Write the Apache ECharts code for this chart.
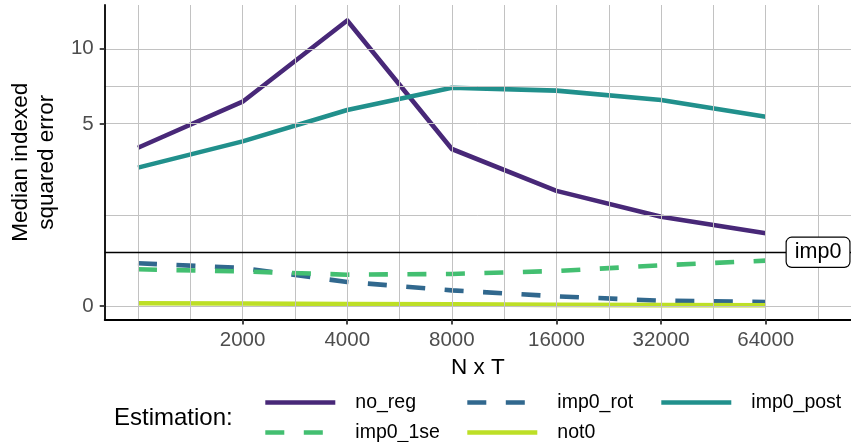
<!DOCTYPE html>
<html>
<head>
<meta charset="utf-8">
<script src="https://cdn.jsdelivr.net/npm/echarts@6/dist/echarts.min.js"></script>
<style>
  html, body { margin: 0; padding: 0; background: #fff; }
  #chart { width: 851px; height: 442px; }
</style>
</head>
<body>
<div id="chart"></div>
<script>
// Problem size (N x T) for each estimation run
const nxt = [1000, 2000, 4000, 8000, 16000, 32000, 64000];

// Median indexed squared error per estimation method
const noReg    = [3.78, 6.30, 12.30, 3.72, 2.00, 1.20, 0.80];
const imp0Rot  = [0.275, 0.218, 0.087, 0.037, 0.0142, 0.0042, 0.0024];
const imp0Post = [2.89, 4.09, 5.80, 7.19, 7.00, 6.40, 5.41];
const imp01se  = [0.203, 0.180, 0.148, 0.155, 0.185, 0.25, 0.31];
const not0     = [0.0011, 0.0009, 0.0006, 0.0004, 0.0002, 0.0001, 0.00007];

// Reference level of the imp0 estimator
const imp0Level = 0.435;
const imp0LabelAt = 90510;   // label position on the N x T axis
const imp0Label = 'imp0';

// Tick labels
const xTicks = [2000, 4000, 8000, 16000, 32000, 64000];
const yTicks = [0, 5, 10];

const legendTitle = 'Estimation:';
const xTitle = 'N x T';
const yTitle = 'Median indexed\nsquared error';

// Scales: log2 on x (relative to 1000), square root on y
const tx = v => Math.log2(v / 1000);
const ty = v => Math.sqrt(v);

const FONT = '"Liberation Sans", Arial, sans-serif';
const GRID_COLOR = '#C2C2C2';

// Major and minor grid positions in transformed units
const xMajor = xTicks.map(tx);
const xMinor = [0, 0.5, 1.5, 2.5, 3.5, 4.5, 5.5, 6.5];
const yMajor = yTicks.map(ty);
const yMinor = [(ty(0) + ty(5)) / 2, (ty(5) + ty(10)) / 2];

const methods = [
  { name: 'no_reg',    values: noReg,    color: '#482878', dash: 'solid' },
  { name: 'imp0_rot',  values: imp0Rot,  color: '#31688E', dash: [19, 19.5] },
  { name: 'imp0_post', values: imp0Post, color: '#21908C', dash: 'solid' },
  { name: 'imp0_1se',  values: imp01se,  color: '#43BF71', dash: [19, 19.5] },
  { name: 'not0',      values: not0,     color: '#BDDF26', dash: 'solid' }
];

const LW = 4.6;

const dataSeries = methods.map(m => ({
  name: m.name,
  type: 'line',
  z: 3,
  symbol: 'none',
  silent: true,
  animation: false,
  color: m.color,
  lineStyle: { color: m.color, width: LW, type: m.dash, cap: 'butt', join: 'round' },
  data: nxt.map((n, i) => [tx(n), ty(m.values[i])])
}));

const gridLineStyle = { color: GRID_COLOR, width: 1, type: 'solid' };

const gridSeries = {
  name: 'grid',
  type: 'line',
  z: 1,
  data: [],
  silent: true,
  animation: false,
  markLine: {
    silent: true,
    animation: false,
    symbol: ['none', 'none'],
    label: { show: false },
    lineStyle: gridLineStyle,
    emphasis: { disabled: true },
    data: [
      ...xMajor.concat(xMinor).map(v => ({ xAxis: v })),
      ...yMajor.concat(yMinor).map(v => ({ yAxis: v }))
    ]
  }
};

const refSeries = {
  name: 'imp0ref',
  type: 'line',
  z: 4,
  data: [],
  silent: true,
  animation: false,
  markLine: {
    silent: true,
    animation: false,
    symbol: ['none', 'none'],
    label: { show: false },
    lineStyle: { color: '#000', width: 1.4, type: 'solid' },
    emphasis: { disabled: true },
    data: [{ yAxis: ty(imp0Level) }]
  },
  markPoint: {
    silent: true,
    animation: false,
    symbol: 'rect',
    symbolSize: 1,
    itemStyle: { color: 'rgba(0,0,0,0)' },
    label: {
      show: true,
      position: 'inside',
      formatter: imp0Label,
      fontFamily: FONT,
      fontSize: 21.5,
      color: '#000',
      backgroundColor: '#fff',
      borderColor: '#000',
      borderWidth: 1.2,
      borderRadius: 5,
      padding: [4, 8, 3, 8]
    },
    data: [{ coord: [tx(imp0LabelAt), ty(imp0Level)] }]
  }
};

// Legend laid out in three columns over two rows
const legendCols = [263, 465, 659];
const legendRows = [402.5, 432.5];
const legendOrder = ['no_reg', 'imp0_rot', 'imp0_post', 'imp0_1se', 'not0'];
const legends = legendOrder.map((name, i) => ({
  data: [name],
  left: legendCols[i % 3],
  top: legendRows[Math.floor(i / 3)] - 10,
  padding: 0,
  itemWidth: 70,
  itemHeight: 20,
  itemGap: 0,
  selectedMode: false,
  itemStyle: { opacity: 0 },
  lineStyle: { width: LW },
  textStyle: {
    fontFamily: FONT, fontSize: 19.5, color: '#000',
    lineHeight: 20, padding: [0, 0, 0, 15]
  }
}));

const chart = echarts.init(document.getElementById('chart'), null, { renderer: 'canvas' });

chart.setOption({
  animation: false,
  backgroundColor: '#fff',
  title: {
    text: legendTitle,
    left: 114,
    top: 406,
    padding: 0,
    textStyle: { fontFamily: FONT, fontSize: 24, fontWeight: 'normal', color: '#000' }
  },
  legend: legends,
  grid: { left: 104, right: 0, top: 5, bottom: 122.5, containLabel: false },
  xAxis: {
    type: 'value',
    min: tx(1000) - 0.318,
    max: tx(1000) + 6.815,
    z: 5,
    name: xTitle,
    nameLocation: 'middle',
    nameGap: 37,
    nameTextStyle: { fontFamily: FONT, fontSize: 22.5, color: '#000', verticalAlign: 'top' },
    axisLine: { show: true, onZero: false, lineStyle: { color: '#000', width: 1.8 } },
    axisTick: { show: true, length: 5, customValues: xMajor, lineStyle: { color: '#333', width: 1.8 } },
    axisLabel: {
      customValues: xMajor,
      margin: 10.5,
      fontFamily: FONT, fontSize: 20.5, color: '#4D4D4D',
      formatter: v => String(Math.round(1000 * Math.pow(2, v)))
    },
    splitLine: { show: false },
    minorSplitLine: { show: false }
  },
  yAxis: {
    type: 'value',
    min: -0.166,
    max: 3.698,
    z: 5,
    name: yTitle,
    nameLocation: 'middle',
    nameRotate: 90,
    nameGap: 40,
    nameTextStyle: { fontFamily: FONT, fontSize: 22.5, color: '#000', lineHeight: 26 },
    axisLine: { show: true, onZero: false, lineStyle: { color: '#000', width: 1.8 } },
    axisTick: { show: true, length: 5, customValues: yMajor, lineStyle: { color: '#333', width: 1.8 } },
    axisLabel: {
      customValues: yMajor,
      margin: 11,
      fontFamily: FONT, fontSize: 20.5, color: '#4D4D4D',
      formatter: v => String(Math.round(v * v))
    },
    splitLine: { show: false },
    minorSplitLine: { show: false }
  },
  series: [gridSeries, ...dataSeries, refSeries]
});
</script>
</body>
</html>
